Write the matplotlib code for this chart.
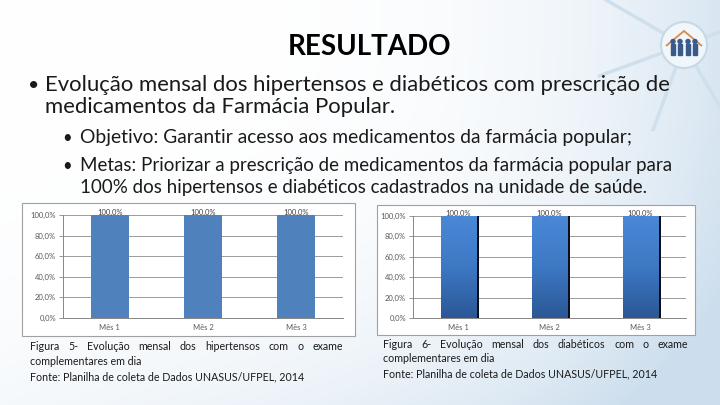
import numpy as np
import matplotlib.pyplot as plt
from matplotlib.patches import Rectangle, Circle, Polygon
from matplotlib.colors import LinearSegmentedColormap

plt.rcParams['font.family'] = ['Lato', 'DejaVu Sans']

months = ["Mês 1", "Mês 2", "Mês 3"]
hipertensos = [100.0, 100.0, 100.0]
diabeticos = [100.0, 100.0, 100.0]
y_ticks = [0, 20, 40, 60, 80, 100]

title = "RESULTADO"
bullet_main = ["Evolução mensal dos hipertensos e diabéticos com prescrição de",
               "medicamentos da Farmácia Popular."]
bullet_obj = "Objetivo: Garantir acesso aos medicamentos da farmácia popular;"
bullet_meta = ["Metas: Priorizar a prescrição de medicamentos da farmácia popular para",
               "100% dos hipertensos e diabéticos cadastrados na unidade de saúde."]
cap_left = ["Figura 5- Evolução mensal dos hipertensos com o exame",
            "complementares em dia",
            "Fonte: Planilha de coleta de Dados UNASUS/UFPEL, 2014"]
cap_right = ["Figura 6- Evolução mensal dos diabéticos com o exame",
             "complementares em dia",
             "Fonte: Planilha de coleta de Dados UNASUS/UFPEL, 2014"]

W, H = 720, 405
fig = plt.figure(figsize=(7.2, 4.05), dpi=100)
renderer = fig.canvas.get_renderer()

# background (pixel coordinates, y downwards)
bg = fig.add_axes([0, 0, 1, 1])
bg.set_xlim(0, W)
bg.set_ylim(H, 0)
bg.axis('off')
xx, yy = np.meshgrid(np.linspace(0, 1, W), np.linspace(0, 1, H))
t = np.clip(0.75 * xx ** 4 + 0.45 * (yy ** 3) * (0.4 + xx), 0, 1)
tint = np.array([0.80, 0.87, 0.93])
img = 1 - t[..., None] * (1 - tint)
bg.imshow(img, extent=[0, W, H, 0], aspect='auto', zorder=0)

# faint network lines + logo
for ang in [200, 150, 300, 20, 250]:
    a = np.deg2rad(ang)
    bg.plot([684, 684 + 90 * np.cos(a)], [45, 45 - 90 * np.sin(a)], color='#cfe0ec', lw=2.5, zorder=1)
bg.add_patch(Circle((684, 45), 23, facecolor='#f1f6fa', edgecolor='#c6d9e6', lw=1.5, zorder=1.5))
bg.add_patch(Polygon([[666, 46], [684, 31], [702, 46]], closed=False, fill=False,
                     edgecolor='#d98a4a', lw=1.3, zorder=2))
for px in [673, 680, 688, 695]:
    bg.add_patch(Rectangle((px - 2, 44), 4, 11, color='#3a5a8a', zorder=2))
    bg.add_patch(Circle((px, 41.5), 2, color='#3a5a8a', zorder=2))

txt = '#1a1a1a'


def justified(x0, x1, y, line, size):
    words = line.split()
    widths = []
    for w in words:
        tt = bg.text(0, 0, w, fontsize=size)
        widths.append(tt.get_window_extent(renderer).width)
        tt.remove()
    gap = (x1 - x0 - sum(widths)) / (len(words) - 1)
    x = x0
    for w, wd in zip(words, widths):
        bg.text(x, y, w, ha='left', va='center', fontsize=size, color=txt, zorder=3)
        x += wd + gap


bg.text(370, 47, title, ha='center', va='center', fontsize=20, fontweight='bold', color='black', zorder=3)
bg.text(28, 85, "•", ha='left', va='center', fontsize=14, color=txt, zorder=3)
bg.text(45, 85, bullet_main[0], ha='left', va='center', fontsize=15.9, color=txt, zorder=3)
bg.text(45, 107, bullet_main[1], ha='left', va='center', fontsize=15.9, color=txt, zorder=3)
bg.text(62, 138, "•", ha='left', va='center', fontsize=12, color=txt, zorder=3)
bg.text(80, 138, bullet_obj, ha='left', va='center', fontsize=13.9, color=txt, zorder=3)
bg.text(62, 166, "•", ha='left', va='center', fontsize=12, color=txt, zorder=3)
bg.text(80, 166, bullet_meta[0], ha='left', va='center', fontsize=13.5, color=txt, zorder=3)
bg.text(80, 188, bullet_meta[1], ha='left', va='center', fontsize=13.5, color=txt, zorder=3)

# chart frames
bg.add_patch(Rectangle((22, 203), 333, 133, facecolor='white', edgecolor='#a0a0a0', lw=0.8, zorder=2))
bg.add_patch(Rectangle((377, 205), 318, 130, facecolor='white', edgecolor='#a0a0a0', lw=0.8, zorder=2))

justified(30, 343, 346, cap_left[0], 7.7)
for i, line in enumerate(cap_left[1:], start=1):
    bg.text(30, 346 + i * 15.5, line, ha='left', va='center', fontsize=7.7, color=txt, zorder=3)
justified(383, 688, 344, cap_right[0], 7.7)
for i, line in enumerate(cap_right[1:], start=1):
    bg.text(383, 344 + i * 15, line, ha='left', va='center', fontsize=7.7, color=txt, zorder=3)


def style_axis(ax):
    x = np.arange(len(months))
    ax.set_xlim(-0.5, len(months) - 0.5)
    ax.set_ylim(0, 100)
    ax.set_yticks(y_ticks)
    ax.set_yticklabels([f"{v:.1f}%".replace('.', ',') for v in y_ticks])
    ax.set_xticks(x)
    ax.set_xticklabels(months)
    ax.set_facecolor('none')
    for s in ['top', 'right']:
        ax.spines[s].set_visible(False)
    for s in ['left', 'bottom']:
        ax.spines[s].set_color('#868686')
        ax.spines[s].set_linewidth(0.7)
    ax.yaxis.grid(True, color='#8c8c8c', lw=0.6)
    ax.set_axisbelow(True)
    ax.tick_params(axis='y', length=3, width=0.6, color='#868686', labelsize=5.5,
                   labelcolor='#595959', pad=2)
    ax.tick_params(axis='x', length=0, labelsize=5.5, labelcolor='#595959', pad=4)
    return x


# left chart
ax1 = fig.add_axes([63 / W, 1 - 318 / H, 280 / W, 103 / H])
x1 = style_axis(ax1)
ax1.bar(x1, hipertensos, width=0.41, color='#4f81bd', zorder=3)
for xi, v in zip(x1, hipertensos):
    ax1.text(xi, v - 1, f"{v:.1f}%".replace('.', ','), ha='center', va='bottom',
             fontsize=5.5, color='#404040', zorder=4)

# right chart with gradient bars and dark shadow
ax2 = fig.add_axes([413 / W, 1 - 318 / H, 273 / W, 102 / H])
x2 = style_axis(ax2)
ax2.bar(x2 + 0.035, diabeticos, width=0.385, color='#0b0f1a', zorder=2)
bars = ax2.bar(x2, diabeticos, width=0.385, color='#3b70b8', zorder=3)
cmap = LinearSegmentedColormap.from_list('g', ['#2b5896', '#3d78c4', '#4a88d6'])
grad = np.linspace(0, 1, 100).reshape(-1, 1)
for b in bars:
    x0, y0 = b.get_x(), b.get_y()
    im = ax2.imshow(grad, extent=[x0, x0 + b.get_width(), y0, y0 + b.get_height()],
                    origin='lower', cmap=cmap, aspect='auto', zorder=3.5)
    im.set_clip_path(b)
for xi, v in zip(x2, diabeticos):
    ax2.text(xi, v - 1, f"{v:.1f}%".replace('.', ','), ha='center', va='bottom',
             fontsize=5.5, color='#404040', zorder=4)
ax2.set_xlim(-0.5, len(months) - 0.5)
ax2.set_ylim(0, 100)

fig.savefig('out.png', dpi=100)
